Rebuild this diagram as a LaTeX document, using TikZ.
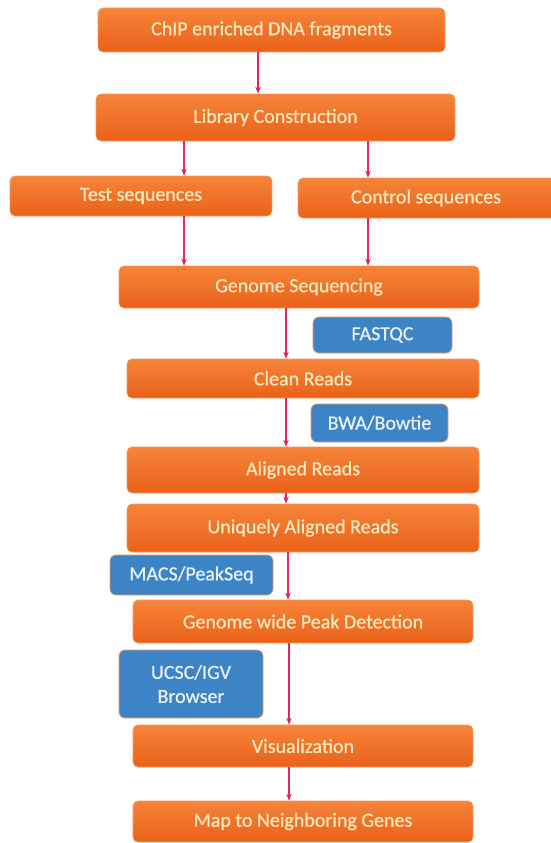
\documentclass[tikz,border=0pt]{standalone}
\usepackage{fontspec}
\setmainfont{Carlito}
\newfontfamily\boxfont[FakeBold=0.8]{Carlito}
\usetikzlibrary{arrows.meta}
\definecolor{otop}{HTML}{F6843A}
\definecolor{obot}{HTML}{EA6119}
\definecolor{oedge}{HTML}{F49A5C}
\definecolor{bfill}{HTML}{3D84C6}
\definecolor{bedge}{HTML}{E89A5E}
\definecolor{txt}{HTML}{FFE8BC}
\definecolor{btxt}{HTML}{E8F0FA}
\definecolor{arrc}{HTML}{E4285A}
\tikzset{
  obox/.style={rectangle, rounded corners=5pt, top color=otop, bottom color=obot, draw=oedge, line width=0.6pt, text=txt, font=\boxfont\fontsize{20}{22}\selectfont, inner sep=0pt},
  otext/.style={text=txt, font=\boxfont\fontsize{20}{22}\selectfont, inner sep=0pt},
  bbox/.style={rectangle, rounded corners=6pt, fill=bfill, draw=bedge, line width=0.8pt, text=btxt, font=\boxfont\fontsize{20}{24}\selectfont, inner sep=0pt, align=center},
  arr/.style={draw=arrc, line width=1.1pt, -{Stealth[length=7pt,width=5.5pt]}}
}
\begin{document}
\begin{tikzpicture}[x=1pt,y=-1pt]
\useasboundingbox (0,0) rectangle (550,843);
\node[obox, minimum width=347pt, minimum height=44pt] (chip) at (271.5,30) {ChIP enriched DNA fragments};
\node[obox, minimum width=359pt, minimum height=47pt] (lib) at (275.5,117.5) {Library Construction};
\node[obox, minimum width=262pt, minimum height=40pt] (test) at (141,196) {Test sequences};
\node[obox, minimum width=262pt, minimum height=40pt] (ctrl) at (429,198) {};
\node[otext] (ctrltxt) at (426,198) {Control sequences};
\node[obox, minimum width=360pt, minimum height=42pt] (gseq) at (299,287) {Genome Sequencing};
\node[bbox, minimum width=139pt, minimum height=36pt] (fastqc) at (382.5,335) {FASTQC};
\node[obox, minimum width=352pt, minimum height=39pt] (clean) at (303,378.5) {Clean Reads};
\node[bbox, minimum width=137pt, minimum height=38pt] (bwa) at (379.5,423) {BWA/Bowtie};
\node[obox, minimum width=352pt, minimum height=46pt] (aligned) at (303,470) {Aligned Reads};
\node[obox, minimum width=352pt, minimum height=48pt] (unique) at (303,528) {Uniquely Aligned Reads};
\node[bbox, minimum width=163pt, minimum height=40pt] (macs) at (191.5,575) {MACS/PeakSeq};
\node[obox, minimum width=340pt, minimum height=43pt] (gwide) at (303,621.5) {Genome wide Peak Detection};
\node[bbox, minimum width=144pt, minimum height=68pt] (ucsc) at (191,684) {UCSC/IGV\\Browser};
\node[obox, minimum width=340pt, minimum height=42pt] (vis) at (303,746) {Visualization};
\node[obox, minimum width=340pt, minimum height=41pt] (map) at (303,821.5) {Map to Neighboring Genes};
\draw[arr] (258,0 |- chip.south) -- (258,0 |- lib.north);
\draw[arr] (184,0 |- lib.south) -- (184,0 |- test.north);
\draw[arr] (368,0 |- lib.south) -- (368,0 |- ctrl.north);
\draw[arr] (184,0 |- test.south) -- (184,0 |- gseq.north);
\draw[arr] (368,0 |- ctrl.south) -- (368,0 |- gseq.north);
\draw[arr] (286,0 |- gseq.south) -- (286,0 |- clean.north);
\draw[arr] (286,0 |- clean.south) -- (286,0 |- aligned.north);
\draw[arr] (286,0 |- aligned.south) -- (286,0 |- unique.north);
\draw[arr] (288,0 |- unique.south) -- (288,0 |- gwide.north);
\draw[arr] (289,0 |- gwide.south) -- (289,0 |- vis.north);
\draw[arr] (289,0 |- vis.south) -- (289,0 |- map.north);
\end{tikzpicture}
\end{document}
